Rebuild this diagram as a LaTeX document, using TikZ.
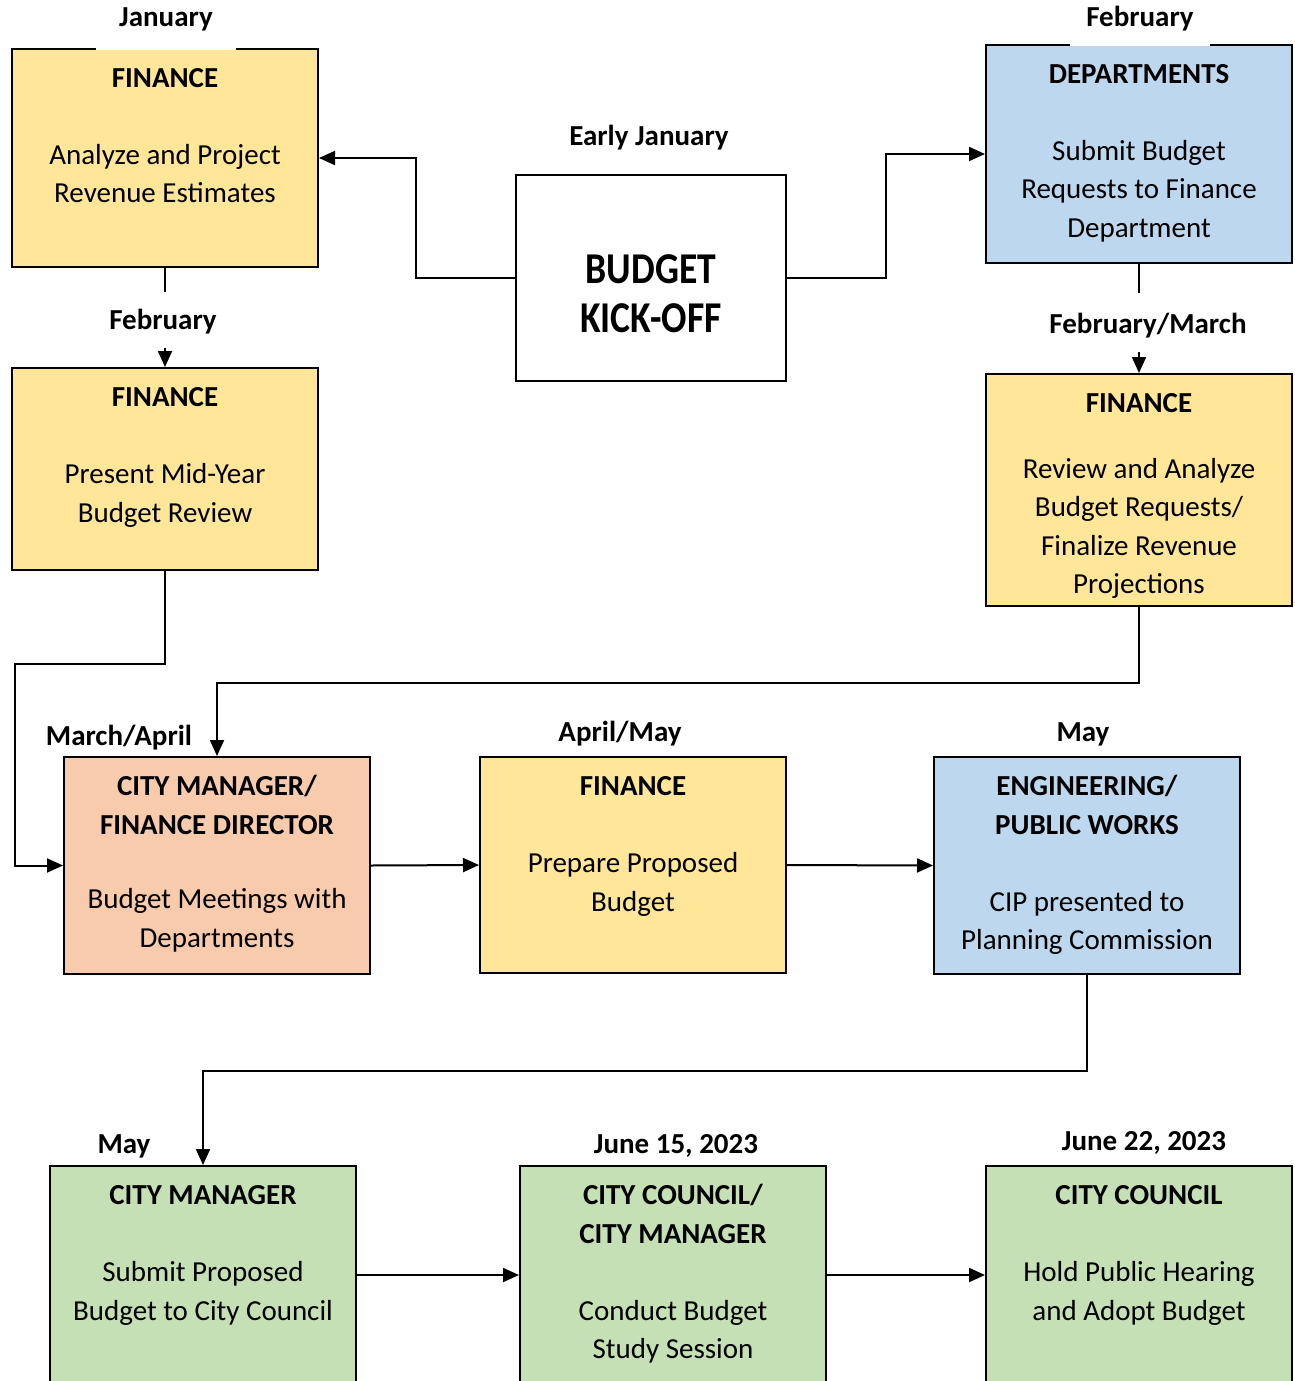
\documentclass[tikz,border=0pt]{standalone}
\usepackage{fontspec}
\setmainfont{Carlito}
\newfontfamily\kickfont[FakeStretch=0.855]{Carlito}
\usepackage{xcolor}
\usepackage{tikz}
\usetikzlibrary{arrows.meta}

\definecolor{giallo}{HTML}{FFE699}
\definecolor{azzurro}{HTML}{BDD7EE}
\definecolor{pesca}{HTML}{F8CBAD}
\definecolor{verde}{HTML}{C5E0B4}

\begin{document}
\begin{tikzpicture}[x=1pt, y=-1pt,
    fase/.style={draw=black, line width=2pt, fill=#1, anchor=north west, inner sep=0pt,
        text width=306pt, align=flush center, text height=38.5pt,
        font=\fontsize{29}{38.5}\selectfont},
    data/.style={font=\fontsize{29}{33}\selectfont\bfseries, anchor=base},
    copri/.style={fill=white, inner sep=0pt, minimum width=140pt},
    freccia/.style={line width=2pt, -{Triangle[length=16pt, width=14pt]}}]

    \path[use as bounding box, clip] (0,0) rectangle (1294,1381);

    % Riquadri
    \node[fase=white, text width=270pt, text height=108pt, text depth=98pt,
        font=\kickfont\fontsize{44}{49}\selectfont\bfseries] (kick) at (515,174) {BUDGET\\ KICK-OFF};
    \node[fase=giallo, text depth=179.5pt] (fin1) at (11,48)
        {\textbf{FINANCE}\\[38.5pt] Analyze and Project\\ Revenue Estimates};
    \node[fase=azzurro, text depth=179.5pt] (dept) at (985,44)
        {\textbf{DEPARTMENTS}\\[38.5pt] Submit Budget\\ Requests to Finance\\ Department};
    \node[fase=giallo, text depth=163.5pt] (fin2) at (11,367)
        {\textbf{FINANCE}\\[38.5pt] Present Mid-Year\\ Budget Review};
    \node[fase=giallo, text depth=193.5pt] (fin3) at (985,373)
        {\textbf{FINANCE}\\[27pt] Review and Analyze\\ Budget Requests/\\ Finalize Revenue\\ Projections};
    \node[fase=pesca, text depth=178.5pt] (cmfd) at (63,756)
        {\textbf{CITY MANAGER/}\\ \textbf{FINANCE DIRECTOR}\\[36pt] Budget Meetings with\\ Departments};
    \node[fase=giallo, text depth=177.5pt] (fin4) at (479,756)
        {\textbf{FINANCE}\\[38.5pt] Prepare Proposed\\ Budget};
    \node[fase=azzurro, text depth=178.5pt] (eng) at (933,756)
        {\textbf{ENGINEERING/}\\ \textbf{PUBLIC WORKS}\\[38.5pt] CIP presented to\\ Planning Commission};
    \node[fase=verde, text depth=179.5pt] (cm) at (49,1165)
        {\textbf{CITY MANAGER}\\[38.5pt] Submit Proposed\\ Budget to City Council};
    \node[fase=verde, text depth=179.5pt] (ccm) at (519,1165)
        {\textbf{CITY COUNCIL/}\\ \textbf{CITY MANAGER}\\[38.5pt] Conduct Budget\\ Study Session};
    \node[fase=verde, text depth=179.5pt] (cc) at (985,1165)
        {\textbf{CITY COUNCIL}\\[38.5pt] Hold Public Hearing\\ and Adopt Budget};

    % Frecce
    \draw[freccia] (kick.west) -- ++(-99,0) |- (fin1.east);
    \draw[freccia] (kick.east) -- ++(99,0) |- (dept.west);
    \draw[freccia] (fin1.south) -- (fin2.north);
    \draw[freccia] (dept.south) -- (fin3.north);
    \draw[freccia] (fin2.south) -- ++(0,93) -| ([xshift=-48pt]cmfd.west) -- (cmfd.west);
    \draw[freccia] (fin3.south) -- ++(0,76) -| (cmfd.north);
    \draw[freccia] (cmfd.east) -- (fin4.west);
    \draw[freccia] (fin4.east) -- (eng.west);
    \draw[freccia] (eng.south) -- ++(0,96) -| (cm.north);
    \draw[freccia] (cm.east) -- (ccm.west);
    \draw[freccia] (ccm.east) -- (cc.west);

    % Date
    \node[data, copri, text height=20pt, text depth=23pt] (gen) at (166,27) {January};
    \node[data] (primogen) at (649,145) {Early January};
    \node[data, copri, text height=20pt, text depth=19pt] (feb1) at (1140,27) {February};
    \node[data, copri, text height=37pt, text depth=19pt] (feb2) at (163,329) {February};
    \node[data, copri, text height=40pt, text depth=19pt] (febmar) at (1148,333) {February/March};
    \node[data] (marapr) at (119,745) {March/April};
    \node[data] (aprmag) at (620,741) {April/May};
    \node[data] (mag1) at (1083,741) {May};
    \node[data] (mag2) at (124,1153) {May};
    \node[data] (giu15) at (676,1153) {June 15, 2023};
    \node[data] (giu22) at (1144,1150) {June 22, 2023};
\end{tikzpicture}
\end{document}
